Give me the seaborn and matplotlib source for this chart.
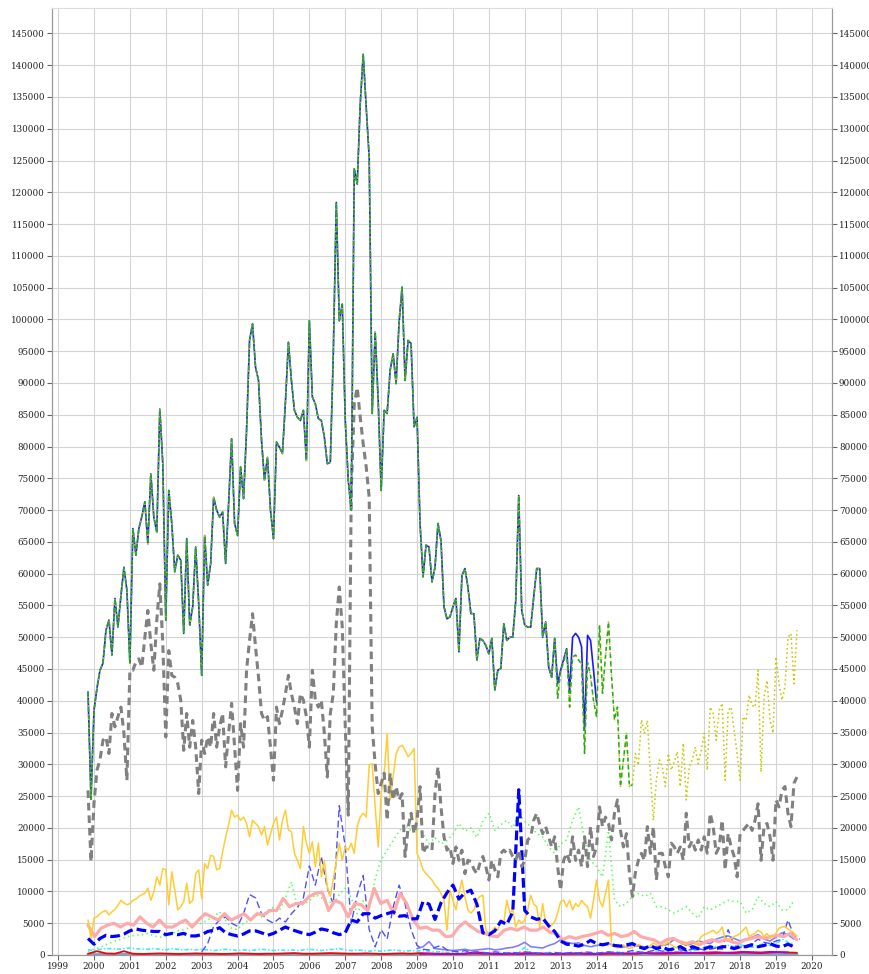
import numpy as np
import pandas as pd
import matplotlib
matplotlib.use("Agg")
import matplotlib.pyplot as plt
import seaborn as sns

sns.set_style("whitegrid")
plt.rcParams['font.family'] = ['DejaVu Serif']
plt.rcParams['lines.scale_dashes'] = False

START = 1999 + 10 / 12  # November 1999

# ---- main total series (monthly) ----
total_common = [
    41400, 24500, 38500, 42000, 44800, 45900, 51100, 52700, 47200, 56100,
    51600, 56500, 61000, 57400, 45900, 67100, 62900, 67100, 69000, 71300,
    64700, 75700, 68900, 66500, 85900, 77300, 52700, 73100, 67900, 60300,
    62900, 62100, 50600, 65500, 51900, 54800, 64200, 55300, 44000, 66000,
    58200, 61600, 72000, 70000, 68900, 69700, 61600, 71000, 81200, 67900,
    66000, 76800, 71800, 82500, 96700, 99300, 92500, 90400, 81000, 74700,
    78300, 70000, 65500, 80700, 79900, 78900, 87000, 96400, 90400, 85700,
    84600, 84100, 85700, 77800, 99800, 87800, 86700, 84400, 84100, 81500,
    77300, 77500, 94600, 118400, 99800, 102400, 84100, 74700, 70000, 123700,
    121300, 133900, 141700, 133400, 125500, 85200, 98000, 87300, 73100, 85700,
    85200, 92000, 94600, 89900, 99600, 105100, 90400, 96700, 96200, 83100,
    84600, 67900, 59500, 64500, 64200, 58700, 61000, 67900, 65200, 54800,
    52900, 53200, 54800, 56100, 47700, 59700, 60800, 57900, 53700, 53700,
    46400, 49800, 49500, 48700, 47400, 49800, 41700, 44800, 45100, 52100,
    49500, 50000, 50000, 55800, 72300, 54200, 51900, 51600, 51600, 56300,
    60800, 60800, 50000, 52400, 45300, 43700, 49800]
blue_tail = [42700, 44800, 46500, 48200, 41400, 50000, 50600, 50000, 48500,
             35400, 50300, 49500, 44800, 39800]
green_tail = [40400, 44800, 46000, 48200, 39000, 46900, 47200, 46400, 45800,
              31700, 46000, 44000, 40000, 37500, 51900, 41200, 47000, 52400,
              44000, 37000, 39000, 26500, 30700, 34900, 26500, 26800]
olive_tail = [31700, 29900, 37000, 34900, 36900, 28600, 21200, 27500, 30700, 29600,
              26500, 31700, 29100, 30400, 32000, 26500, 33300, 24400, 29600, 30700,
              32700, 30100, 32200, 34900, 29100, 39000, 38000, 33800, 38500, 39600,
              27500, 38500, 39000, 35400, 31700, 27500, 37500, 36900, 40900, 39300,
              39000, 44800, 28800, 40600, 43200, 36900, 34900, 46900, 42700, 40100,
              42200, 50000, 50600, 42700, 51100]

# ---- gray dashed (monthly) ----
gray_vals = [
    25900, 14700, 23900, 29100, 30700, 33800, 34300, 31700, 38000, 35900,
    37500, 39000, 34900, 27500, 44800, 44800, 46100, 46600, 45300, 50000,
    54200, 49000, 44800, 52700, 58400, 49000, 34300, 47900, 44000, 43700,
    42700, 40100, 32200, 38000, 32700, 36900, 32700, 25400, 33800, 31700,
    34300, 32700, 38000, 32700, 35900, 38000, 29600, 34900, 39600, 32700,
    25900, 36400, 32700, 44800, 49500, 53700, 48500, 43700, 38000, 36900,
    37500, 32700, 27500, 39000, 36400, 38500, 41100, 44000, 41100, 39000,
    36400, 41100, 40100, 37500, 32700, 44800, 40100, 39000, 40100, 34900,
    28000, 38000, 41100, 52100, 57900, 51600, 35900, 22000, 73100, 86700,
    89300, 84600, 80400, 76800, 72000, 35900, 30000, 25400, 27000, 28600,
    21200, 28600, 24400, 26500, 24400, 25400, 15500, 20000, 22300, 19100,
    21200, 26500, 16000, 17000, 17000, 16500, 25400, 29600, 23300, 18600,
    16500, 17000, 14400, 17000, 14900, 16500, 12800, 14900, 14700, 13500,
    12800, 14400, 15500, 13900, 11800, 14900, 13400, 12300, 16000, 16500,
    16000, 16500, 15500, 14900, 16500, 13900, 14900, 18100, 18600, 21200,
    22300, 20500, 19100, 20200, 18600, 17000, 18600, 13900, 10200, 14900,
    16000, 14700, 18600, 14900, 16500, 13900, 18600, 13900, 20200, 15500,
    17000, 23300, 20200, 21700, 20700, 18100, 22300, 24400, 19600, 17000,
    19100, 12800, 9200, 13000, 14900, 16000, 14900, 20200, 16000, 20200,
    11800, 16000, 16000, 13900, 12300, 17600, 17000, 16000, 17000, 14900,
    22300, 17000, 18000, 16500, 18100, 16500, 18600, 16000, 22300, 20200,
    16000, 17000, 21200, 13400, 19100, 17000, 15500, 12300, 19100, 19600,
    20200, 20700, 19600, 21200, 23800, 14900, 20200, 20700, 18600, 14900,
    24400, 23300, 25900, 26500, 22300, 20200, 27000, 28000]

# ---- gold solid (monthly) ----
gold_vals = [
    5500, 2600, 5800, 6000, 6500, 6800, 7000, 6300, 6800, 7200, 7800, 8600,
    8200, 7900, 8100, 8600, 8800, 9200, 9500, 9700, 10500, 8600, 9900, 12300,
    11000, 13600, 13400, 7900, 13100, 10200, 7100, 7600, 8400, 11300, 8100, 8600,
    12800, 13400, 8900, 14400, 13600, 15700, 15500, 13400, 13600, 16200, 18500, 20500,
    22800, 21700, 22000, 21200, 21700, 20700, 18600, 21200, 20700, 20200,
    18900, 20200, 17300, 19000, 20700, 21700, 18100, 21200, 22800, 19700,
    19400, 16000, 14900, 13600, 20200, 17600, 16000, 17800, 13900, 17600,
    12300, 14900, 10700, 9200, 12000, 14900, 17600, 14900, 17000, 16500,
    17600, 16000, 20200, 21700, 22300, 21700, 29900, 30100, 23300, 17000,
    25400, 28600, 34900, 24400, 28000, 31700, 32700, 33000, 32200, 31200,
    31700, 32500, 16000, 14900, 13400, 12800, 12300, 11800, 11000, 10500,
    9700, 8600, 3900, 10200, 8600, 7100, 9700, 11800, 9200, 7100,
    6600, 7100, 8600, 9200, 9400, 3900, 3400, 3700, 4400, 3900,
    5500, 5000, 8600, 6600, 7100, 4400, 5500, 5000, 5500, 7100,
    9400, 8000, 7600, 4400, 8100, 5000, 4200, 4700, 5200, 6600,
    8400, 8600, 7600, 8600, 7100, 8100, 7600, 8600, 8000, 7600,
    5800, 8600, 11800, 8600, 7600, 9700, 11800,
    1500, 1300, 1100, 1400, 1600, 1200, 1000, 1200, 1500, 1700,
    1400, 1100, 1300, 1500, 1900, 1600, 1200, 1400, 1700, 2100,
    1600, 1300, 1100, 1500, 1800, 1700, 1400, 1300, 1600, 2100,
    2900, 3200, 3400, 3600, 3900, 3400, 3700, 4400, 2600, 2500,
    2600, 2900, 3100, 3400, 3900, 4400, 2900, 3200, 3400, 3900,
    3600, 2900, 3400, 2600, 3000, 3400, 4200, 4400, 4500, 4100,
    3800, 3400, 3000]

# ---- pink thick (about every 2.2 months, Nov 1999 - Jul 2019) ----
pink_vals = [
    4700, 2900, 4200, 4700, 5000, 4400, 5000, 4700, 6000, 5000, 4400, 5500,
    4400, 4400, 5000, 5500, 4400, 5500, 6500, 6000, 5500, 6500, 5500, 6000,
    6500, 5500, 6500, 6300, 7000, 7000, 8900, 7600, 8100, 8100, 9200, 9700,
    9900, 7000, 8600, 8100, 6000, 8100, 7900, 7000, 10500, 8100, 8600, 6500,
    9700, 8100, 5500, 4200, 4400, 3900, 3900, 2900, 3000, 4400, 5200, 4400,
    3700, 3400, 3000, 2900, 3900, 4200, 3900, 4400, 3900, 3900, 4400, 3600,
    3400, 2400, 2900, 2600, 2900, 3100, 3400, 3700, 3100, 3400, 2900, 3100,
    3700, 2900, 2600, 2400, 1800, 2400, 2600, 2100, 1800, 2100, 1600, 2100,
    2400, 2100, 2400, 2100, 1800, 2400, 2600, 2900, 2600, 2900, 3100, 2900,
    3400, 2400]

# ---- bimonthly series ----
blue_dash_vals = [
    2600, 1700, 2600, 3100, 2900, 3000, 3300, 3800, 4100, 3900,
    3800, 3700, 3700, 3200, 3400, 3200, 3400, 3000, 3000, 3200,
    3700, 3900, 4300, 3500, 3200, 3000, 3300, 3800, 3800, 3500,
    3100, 3400, 3900, 4400, 4000, 3700, 3400, 3200, 3600, 4100,
    3900, 3500, 3200, 3500, 5500, 5200, 6500, 6500, 5800, 6200,
    6500, 6800, 6100, 6200, 5700, 5700, 8400, 8000, 5600, 8200,
    9800, 11000, 8800, 9800, 10200, 8000, 3500, 3200, 3800, 5300,
    4800, 6800, 26000, 7000, 6000, 5600, 5800, 4600, 3700, 2200,
    1700, 1600, 1400, 1700, 2300, 1800, 1600, 1800, 1500, 1400,
    1600, 1800, 1300, 1000, 1500, 1000, 1300, 800, 1000, 1300,
    800, 1300, 1000, 1000, 1300, 1000, 1300, 1300, 1000, 1300,
    1300, 1600, 1300, 1500, 1800, 1400, 1300, 1700, 1300]
light_blue_dash_vals = [  # from Jan 2003
    500, 1800, 4500, 5500, 6000, 5000, 4500, 6500, 9500, 9000,
    6500, 5500, 5000, 5800, 5200, 6500, 7500, 9000, 14000, 11000,
    15500, 10500, 8000, 23500, 17000, 5000, 9500, 12500, 4000, 1300,
    4000, 2500, 7500, 11000, 8000, 4000, 1500, 900, 800, 1200,
    1500, 800, 600, 500, 700, 400, 500, 400, 300, 500,
    400, 300, 400, 300, 500, 400, 300, 200, 300, 400,
    300, 300, 400, 300, 500, 400, 300, 400, 500, 400,
    300, 500, 700, 500, 400, 600, 800, 600, 700, 900,
    800, 700, 900, 1000, 800, 900, 1100, 900,
    4000, 1500, 1200, 1500, 1800, 2500, 2000, 1800, 2200, 2500, 5500, 3000, 2500]
light_green_vals = [
    600, 900, 1200, 1600, 2000, 2300, 2700, 3000, 3100, 3200,
    3400, 3000, 2800, 3000, 3300, 3800, 4000, 4300, 4800, 5000,
    5500, 6000, 6800, 5500, 4200, 4000, 5000, 5500, 6500, 6000,
    7000, 7500, 7000, 9000, 11500, 7500, 8000, 8500, 9500, 9000,
    8500, 8000, 9500, 10500, 9000, 6500, 8500, 7000, 12000, 15000,
    16500, 18000, 19500, 20500, 19500, 20000, 19000, 17500, 18500, 17500,
    18000, 19000, 20700, 19500, 20000, 18500, 21000, 22300, 19600, 20500,
    21200, 20000, 22300, 21000, 20200, 19100, 18600, 17000, 16000, 17500,
    18100, 21200, 23300, 18100, 14900, 13900, 12300, 19600, 8600, 7600,
    8100, 9200, 9700, 9200, 9700, 7600, 7600, 7100, 6600, 7100,
    7600, 6600, 5800, 7600, 7100, 7600, 8100, 8600, 8400, 8400,
    6600, 7100, 9200, 8100, 7600, 8400, 7100, 7100, 8600]
cyan_vals = [
    800, 700, 900, 1000, 1000, 900, 1000, 1100, 1000, 900,
    900, 1000, 900, 800, 1000, 900, 800, 900, 800, 900,
    800, 700, 800, 900, 800, 700, 800, 700, 800, 900,
    800, 700, 800, 700, 800, 700, 800, 900, 800, 700,
    800, 900, 1000, 800, 700, 800, 700, 600, 700, 600,
    700, 800, 700, 600, 700, 600, 700, 600, 500, 500,
    400, 400, 300, 400, 300, 300, 400, 300, 300, 400,
    300, 300, 400, 1200, 400, 300, 300, 400, 300, 300,
    300, 400, 300, 300, 400, 300, 300, 400, 500, 400,
    300, 400, 500, 400, 400, 500, 400, 500, 500, 600,
    500, 600, 800, 1200, 1000, 1300, 1200, 1500, 1300, 1600,
    1400, 1200, 1500, 1800, 1500, 1700, 2500, 2000, 1600]
slate_vals = [  # from Jan 2009
    1000, 1300, 2100, 1000, 900, 800, 700, 800, 900, 700,
    800, 900, 1000, 800, 900, 1100, 1200, 1500, 2000, 1300,
    1200, 1100, 1500, 1800, 2400, 2000, 1800, 1900, 1500, 1300,
    1500, 1700, 1800, 1500, 1200, 1300, 1500, 1400, 1300, 1200,
    1300, 1500, 1700, 2500, 2000, 1500, 1800, 2200, 2000, 1800,
    2500, 2800, 3000, 2600, 2200, 2500, 2800, 3200, 2500, 2200,
    2800, 3500, 3200, 2500]

# ---- quarterly small series ----
red_vals = [200, 600, 250, 200, 600, 200, 150, 200, 250, 200,
            150, 200, 250, 200, 200, 150, 200, 250, 200, 150,
            200, 200, 250, 300, 200, 200, 250, 300, 250, 200,
            200, 250, 200, 150, 200, 250, 200, 300, 250, 200,
            200, 150, 200, 250, 200, 200, 150, 200, 250, 300,
            200, 200, 150, 200, 200, 250, 200, 150, 200, 200,
            250, 200, 300, 250, 200, 250, 300, 350, 300, 250,
            300, 350, 300, 400, 350, 300, 400, 450, 400, 350]
magenta_vals = [150, 200, 150, 100, 150, 200, 400, 350, 200, 150,
                200, 150, 200, 250, 200, 150, 200, 250, 200, 150,
                200, 300, 250, 200, 250, 300, 250, 300, 350, 400,
                300, 350, 400, 450, 350, 400, 500, 450, 400, 500,
                450, 400]
steel_vals = [80, 60, 70, 90, 80, 100, 90, 80, 70, 90,
              100, 80, 90, 110, 100, 90, 80, 100, 120, 110,
              100, 90, 110, 120, 100, 90, 100, 110, 130, 120,
              110, 100, 90, 100, 120, 110, 100, 90, 80, 90,
              100, 90, 80, 70, 90, 80, 70, 80, 90, 80,
              70, 80, 90, 100, 90, 80, 90, 100, 110, 100,
              90, 100, 110, 120, 110, 100, 110, 120, 130, 120,
              110, 120, 130, 140, 130, 120, 140, 150, 140, 130]

def monthly(vals, offset=0):
    return START + (offset + np.arange(len(vals))) / 12.0

def bimonthly(vals, offset=0):
    return START + (offset + np.arange(len(vals))) * 2 / 12.0

def quarterly(vals, offset=0):
    return START + (offset + np.arange(len(vals))) * 3 / 12.0

series = [
    # name, years, values, color, lw, dashes, zorder
    ("steel", quarterly(steel_vals), steel_vals, "#6aaad8", 2.2, None, 2),
    ("lightgreen", bimonthly(light_green_vals), light_green_vals, "#55ff55", 1.2, [1.0, 2.4], 2),
    ("cyan", bimonthly(cyan_vals), cyan_vals, "#33eeff", 1.2, [3, 1.5, 1, 1.5], 2),
    ("red", quarterly(red_vals), red_vals, "#ff0000", 1.3, None, 3),
    ("magenta", quarterly(magenta_vals, 37), magenta_vals, "#bb00bb", 1.3, None, 3),
    ("slate", bimonthly(slate_vals, 55), slate_vals, "#8080ff", 1.2, None, 3),
    ("lightbluedash", bimonthly(light_blue_dash_vals, 19), light_blue_dash_vals, "#5050ff", 1.0, [5, 2.5], 3),
    ("pink", np.linspace(START, 2019.58, len(pink_vals)), pink_vals, "#ffaaaa", 2.3, None, 4),
    ("gold", monthly(gold_vals), gold_vals, "#ffcc33", 1.1, None, 5),
    ("bluedash", bimonthly(blue_dash_vals), blue_dash_vals, "#0000ff", 2.3, [7, 3], 6),
    ("gray", monthly(gray_vals), gray_vals, "#808080", 2.2, [5.5, 3.5], 6),
]
blue_total = total_common + blue_tail
green_total = total_common + green_tail
olive_total = total_common + green_tail + olive_tail
series += [
    ("blue", monthly(blue_total), blue_total, "#1a1aff", 1.2, None, 7),
    ("olive", monthly(olive_total), olive_total, "#c8c800", 1.1, [1.2, 2.0], 8),
    ("green", monthly(green_total), green_total, "#22aa22", 1.1, [3.0, 2.5], 9),
]

fig = plt.figure(figsize=(8.7, 9.74), dpi=100)
ax = fig.add_axes([52 / 870, 19 / 974, (832 - 52) / 870, (955 - 8) / 974])

for name, yrs, vals, color, lw, dashes, z in series:
    df = pd.DataFrame({"year": yrs, "value": vals})
    sns.lineplot(data=df, x="year", y="value", ax=ax, color=color, linewidth=lw,
                 estimator=None, sort=False, errorbar=None, legend=False)
    line = ax.lines[-1]
    if dashes is not None:
        line.set_dashes(dashes)
    line.set_zorder(z)

ax.set_xlim(1998.83, 2020.56)
ax.set_ylim(0, 149000)
ax.set_xticks(np.arange(1999, 2021))
ax.set_xticklabels([str(y) for y in range(1999, 2021)])
yt = np.arange(0, 150000, 5000)
ax.set_yticks(yt)
ax.set_yticklabels([str(v) for v in yt])
ax.set_xlabel("")
ax.set_ylabel("")
ax.grid(True, color="#d4d4d4", linewidth=0.8)
ax.set_axisbelow(True)
for s in ["left", "right", "bottom"]:
    ax.spines[s].set_color("#9a9a9a")
    ax.spines[s].set_linewidth(0.9)
ax.spines["top"].set_color("#dddddd")
ax.tick_params(axis="both", which="both", length=3.5, width=0.8, color="#666666",
               labelsize=6.3, pad=1.5, labelcolor="#222222")
ax.tick_params(axis="y", left=True, right=True, labelleft=True, labelright=True)
ax.tick_params(axis="x", bottom=True)

fig.savefig("out.png", dpi=100)
